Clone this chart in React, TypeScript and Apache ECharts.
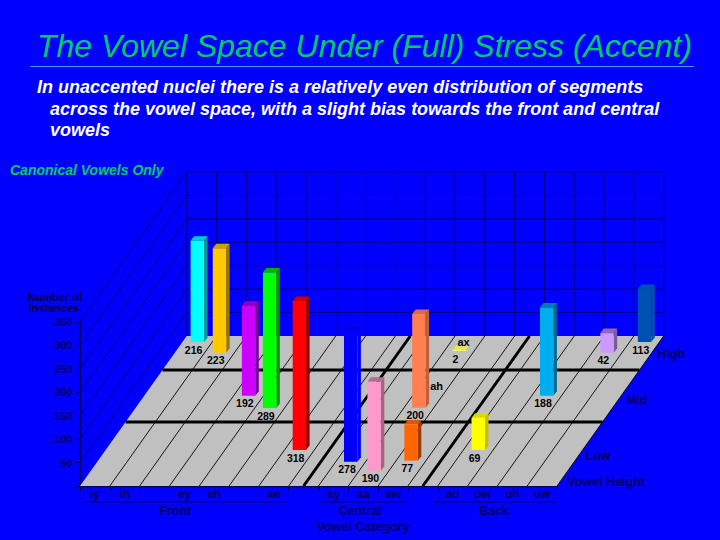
import React, { useEffect, useRef } from "react";
import * as echarts from "echarts";

// ---- data ----
const categories = ["iy", "ih", "", "ey", "eh", "", "ae", "", "ay", "aa", "aw", "", "ao", "ow", "uh", "uw"];
const yTicksMax = 350;

const barNames = ["iy", "uw", "ih", "ax", "uh", "ey", "ow", "eh", "ah", "ae", "ao", "aw", "ay", "aa"];
const barSlots = [0, 15, 1, 9, 14, 3, 13, 4, 9, 6, 12, 10, 8, 9];
const barValues = [216, 113, 223, 2, 42, 192, 188, 289, 200, 318, 69, 77, 278, 190];
// position of the bar on the Vowel Height axis: 0 = front edge, 1 = back edge
const barDepths = [0.96, 0.96, 0.888, 0.9, 0.888, 0.602, 0.602, 0.52, 0.522, 0.24, 0.24, 0.169, 0.162, 0.102];

const heightBands = [0.427, 0.773];
const categorySeparators = [7, 11];

// ---- styles ----
const barColors = ["#00FFFF", "#0050B4", "#FFC800", "#FFFF66", "#CC99FF", "#CC00FF", "#00AEEF", "#00FF00", "#FF7F50", "#FF0000", "#FFFF00", "#FF6600", "#0000FF", "#FF99CC"];
const SIDE_FACTOR = [0.6, 1, 0.6, 0.8, 0.6, 0.6, 0.6, 0.6, 0.75, 0.6, 0.75, 0.6, 1, 0.65];
const TOP_FACTOR = [0.8, 1, 0.8, 0.9, 0.7, 0.72, 0.72, 0.7, 0.85, 0.8, 0.85, 0.85, 0.88, 0.7];

const DEPTH_DX = 106.7;
const DEPTH_DY = 150;
const BAR_DX = 3.5;
const BAR_DY = 4.5;
const BG = "#0000FF";
const FLOOR = "#C0C0C0";
const GRID = "#00008C";
const DARK = "#000064";
const FONT = "Liberation Sans";

const shade = (hex: string, f: number) => {
  const n = parseInt(hex.slice(1), 16);
  const c = (s: number) => Math.round(((n >> s) & 255) * f);
  return `rgb(${c(16)},${c(8)},${c(0)})`;
};

const text = (t: string, x: number, y: number, size: number, fill: string, extra: any = {}) => ({
  type: "text",
  silent: true,
  style: { text: t, x, y, fill, font: `bold ${size}px "${FONT}"`, textAlign: "center", textVerticalAlign: "middle", ...extra },
});

const line = (x1: number, y1: number, x2: number, y2: number, stroke: string, lineWidth: number) => ({
  type: "line",
  silent: true,
  shape: { x1, y1, x2, y2 },
  style: { stroke, lineWidth },
});

const renderFrame = (_: any, api: any) => {
  const slot = api.size([1, 0])[0];
  const origin = api.coord([0, 0]);
  const x0 = origin[0] - slot / 2;
  const y0 = origin[1];
  const xEnd = x0 + slot * categories.length;
  const yTop = api.coord([0, yTicksMax])[1];
  const tickH = api.size([0, 50])[1];
  const children: any[] = [];

  // floor
  children.push({
    type: "polygon",
    silent: true,
    shape: { points: [[x0, y0], [xEnd, y0], [xEnd + DEPTH_DX, y0 - DEPTH_DY], [x0 + DEPTH_DX, y0 - DEPTH_DY]] },
    style: { fill: FLOOR },
  });
  // back wall horizontal lines + left wall diagonals
  for (let i = 1; i <= yTicksMax / 50; i++) {
    const y = y0 - i * tickH;
    children.push(line(x0 + DEPTH_DX, y - DEPTH_DY, xEnd + DEPTH_DX, y - DEPTH_DY, GRID, 1.1));
    children.push(line(x0, y, x0 + DEPTH_DX, y - DEPTH_DY, GRID, 1));
  }
  // slot lines: floor + back wall
  for (let i = 0; i <= categories.length; i++) {
    const x = x0 + i * slot;
    children.push(line(x + DEPTH_DX, y0 - DEPTH_DY, x + DEPTH_DX, yTop - DEPTH_DY, GRID, 1.1));
    if (i > 0) children.push(line(x, y0, x + DEPTH_DX, y0 - DEPTH_DY, "#000000", 0.9));
  }
  // thick separators
  categorySeparators.forEach((s) => {
    const x = x0 + (s + 0.5) * slot;
    children.push(line(x, y0, x + DEPTH_DX, y0 - DEPTH_DY, "#000000", 3));
  });
  heightBands.forEach((d) => {
    children.push(line(x0 + d * DEPTH_DX, y0 - d * DEPTH_DY, xEnd + d * DEPTH_DX, y0 - d * DEPTH_DY, "#000000", 3));
  });
  return { type: "group", children };
};

const renderBar = (_: any, api: any) => {
  const i = api.value(4);
  const base = api.coord([api.value(0), 0]);
  const top = api.coord([api.value(0), api.value(1)]);
  const d = api.value(2);
  const w = api.size([1, 0])[0] * 0.45;
  const l = base[0] + d * DEPTH_DX - w / 2;
  const r = l + w;
  const b = base[1] - d * DEPTH_DY;
  const t = top[1] - d * DEPTH_DY;
  const color = barColors[i];
  const children: any[] = [
    { type: "polygon", silent: true, shape: { points: [[r, b], [r + BAR_DX, b - BAR_DY], [r + BAR_DX, t - BAR_DY], [r, t]] }, style: { fill: shade(color, SIDE_FACTOR[i]) } },
    { type: "polygon", silent: true, shape: { points: [[l, t], [r, t], [r + BAR_DX, t - BAR_DY], [l + BAR_DX, t - BAR_DY]] }, style: { fill: shade(color, TOP_FACTOR[i]) } },
    { type: "rect", silent: true, shape: { x: l, y: t, width: w, height: b - t }, style: { fill: color } },
    text(String(api.value(1)), l + 3, b + 7.5, 10.5, "#000000"),
  ];
  const name = barNames[i];
  if (name === "ax") children.push(text("ax", l + 11, b - 9, 11, "#000000"));
  if (name === "ah") children.push(text("ah", r + 11, b - 22, 11, "#000000"));
  return { type: "group", children };
};

const option: any = {
  animation: false,
  backgroundColor: BG,
  grid: { left: 80, right: 163, top: 322, bottom: 54 },
  xAxis: {
    type: "category",
    data: categories,
    boundaryGap: true,
    axisLine: { show: true, lineStyle: { color: DARK, width: 1.4 } },
    axisTick: { show: true, length: 5, lineStyle: { color: DARK }, interval: 0 },
    axisLabel: { interval: 0, color: DARK, fontFamily: FONT, fontWeight: "bold", fontSize: 12, margin: 2 },
    splitLine: { show: false },
  },
  yAxis: {
    type: "value",
    min: 0,
    max: yTicksMax,
    interval: 50,
    axisLine: { show: true, lineStyle: { color: DARK, width: 1.2 } },
    axisTick: { show: true, length: 4, lineStyle: { color: DARK } },
    axisLabel: {
      color: DARK,
      fontFamily: FONT,
      fontWeight: "bold",
      fontSize: 10.5,
      margin: 8,
      formatter: (v: number) => (v === 0 ? "" : String(v)),
    },
    splitLine: { show: false },
  },
  series: [
    { type: "custom", name: "frame", coordinateSystem: "cartesian2d", silent: true, clip: false, z: 1, data: [[0, 0]], encode: { x: 0, y: 1 }, renderItem: renderFrame },
    {
      type: "custom",
      name: "bars",
      coordinateSystem: "cartesian2d",
      silent: true,
      clip: false,
      z: 3,
      encode: { x: 0, y: 1 },
      data: barValues.map((v, i) => [barSlots[i], v, barDepths[i], 0, i]),
      renderItem: renderBar,
    },
  ],
  graphic: {
    elements: [
      { type: "text", left: 37, top: 30, silent: true, style: { text: "The Vowel Space Under (Full) Stress (Accent)", fill: "#00CC66", font: `italic 32px "${FONT}"` } },
      { type: "rect", silent: true, shape: { x: 30, y: 66, width: 664, height: 1 }, style: { fill: "#3399FF" } },
      { type: "text", left: 37, top: 78, silent: true, style: { text: "In unaccented nuclei there is a relatively even distribution of segments", fill: "#FFFFFF", font: `italic bold 18px "${FONT}"` } },
      { type: "text", left: 50, top: 100, silent: true, style: { text: "across the vowel space, with a slight bias towards the front and central", fill: "#FFFFFF", font: `italic bold 18px "${FONT}"` } },
      { type: "text", left: 50, top: 121, silent: true, style: { text: "vowels", fill: "#FFFFFF", font: `italic bold 18px "${FONT}"` } },
      { type: "text", left: 10, top: 163, silent: true, style: { text: "Canonical Vowels Only", fill: "#00CC66", font: `italic bold 14px "${FONT}"` } },
      text("Number of", 55, 297, 11, "#000040"),
      text("Instances", 54, 308, 11, "#000040"),
      line(84, 501.7, 287, 501.7, DARK, 1.4),
      line(320, 501.7, 406, 501.7, DARK, 1.4),
      line(434, 501.7, 555, 501.7, DARK, 1.4),
      text("Front", 175, 511, 12.5, DARK),
      text("Central", 360, 511, 12.5, DARK),
      text("Back", 494, 511, 12.5, DARK),
      text("Vowel Category", 363, 527, 12.5, DARK),
      text("High", 671, 354, 12.5, DARK),
      text("Mid", 637, 400, 12.5, DARK),
      text("Low", 598, 456, 12.5, DARK),
      text("Vowel Height", 606, 482, 12.5, DARK),
    ],
  },
};

export default function App() {
  const ref = useRef<HTMLDivElement>(null);
  useEffect(() => {
    document.body.style.margin = "0";
    document.body.style.overflow = "hidden";
    const chart = echarts.init(ref.current!, undefined, { renderer: "svg" });
    chart.setOption(option);
    return () => chart.dispose();
  }, []);
  return <div ref={ref} style={{ width: 720, height: 540 }} />;
}
